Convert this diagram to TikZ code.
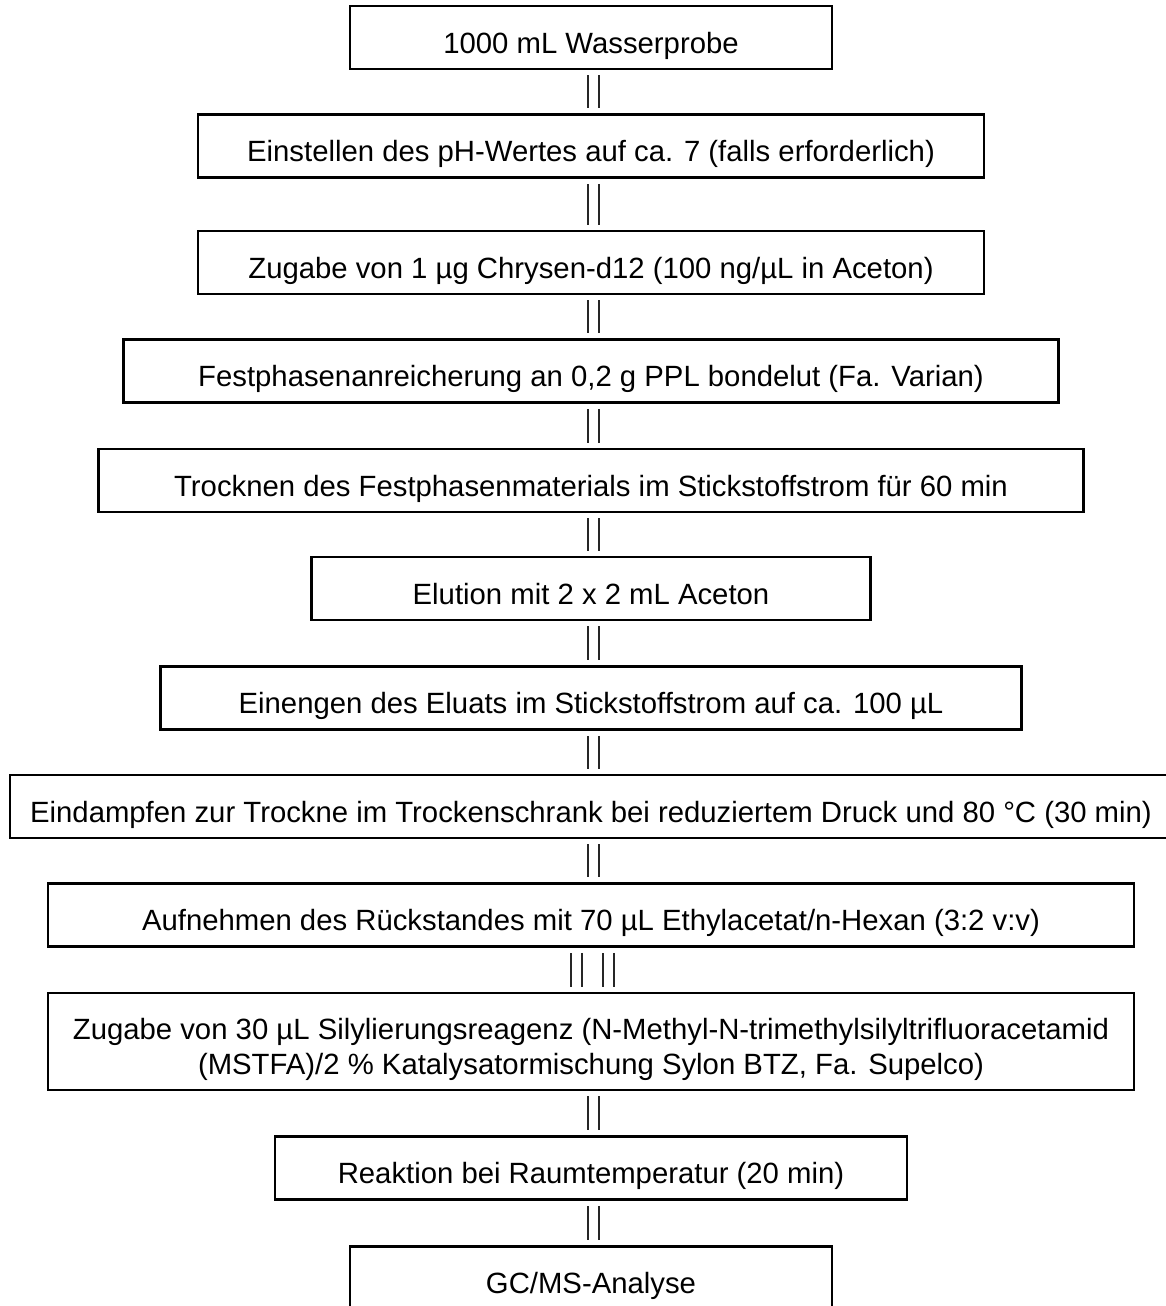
\documentclass[tikz,border=0pt]{standalone}
\usepackage{fontspec}
\setmainfont{Liberation Sans}
\begin{document}
\begin{tikzpicture}[x=1pt,y={(0,-1pt)},
  stepbox/.style={draw=black, line width=2.8pt, fill=white, inner sep=0pt,
    align=center, font=\fontsize{29.3}{34.5}\selectfont, minimum height=63pt},
  oneline/.style={text height=31.5pt, text depth=0pt},
  link/.style={draw=black!85, line width=2.2pt, double=white, double distance=8.5pt,
    shorten <=5pt, shorten >=5pt}]
\useasboundingbox (0,0) rectangle (1166,1306);
\clip (0,0) rectangle (1166,1306);
% process steps, all centred on x = 591
\node[stepbox, oneline, minimum width=482pt] (s1) at (591,37.5) {1000 mL Wasserprobe};
\node[stepbox, oneline, minimum width=786pt] (s2) at (591,146) {Einstellen des pH-Wertes auf ca. 7 (falls erforderlich)};
\node[stepbox, oneline, minimum width=786pt] (s3) at (591,262.5) {Zugabe von 1 µg Chrysen-d12 (100 ng/µL in Aceton)};
\node[stepbox, oneline, minimum width=935pt] (s4) at (591,371) {Festphasenanreicherung an 0,2 g PPL bondelut (Fa. Varian)};
\node[stepbox, oneline, minimum width=985pt] (s5) at (591,480.5) {Trocknen des Festphasenmaterials im Stickstoffstrom für 60 min};
\node[stepbox, oneline, minimum width=559pt] (s6) at (591,588.5) {Elution mit 2 x 2 mL Aceton};
\node[stepbox, oneline, minimum width=861pt] (s7) at (591,698) {Einengen des Eluats im Stickstoffstrom auf ca. 100 µL};
\node[stepbox, oneline, minimum width=1162pt] (s8) at (591,806.5) {Eindampfen zur Trockne im Trockenschrank bei reduziertem Druck und 80 °C (30 min)};
\node[stepbox, oneline, minimum width=1086pt] (s9) at (591,915) {Aufnehmen des Rückstandes mit 70 µL Ethylacetat/n-Hexan (3:2 v:v)};
\node[stepbox, minimum width=1086pt, minimum height=97pt] (s10) at (591,1041.5) {\rule{0pt}{37pt}Zugabe von 30 µL Silylierungsreagenz (N-Methyl-N-trimethylsilyltrifluoracetamid\\(MSTFA)/2 \% Katalysatormischung Sylon BTZ, Fa. Supelco)};
\node[stepbox, oneline, minimum width=632pt] (s11) at (591,1168) {Reaktion bei Raumtemperatur (20 min)};
\node[stepbox, oneline, minimum width=482pt] (s12) at (591,1278) {GC/MS-Analyse};
% double-bar connectors
\foreach \a/\b in {s1/s2,s2/s3,s3/s4,s4/s5,s5/s6,s6/s7,s7/s8,s8/s9,s10/s11,s11/s12}
  \draw[link] ([xshift=2.5pt]\a.south) -- ([xshift=2.5pt]\b.north);
\draw[link] ([xshift=-14.5pt]s9.south) -- ([xshift=-14.5pt]s10.north);
\draw[link] ([xshift=17.5pt]s9.south) -- ([xshift=17.5pt]s10.north);
\end{tikzpicture}
\end{document}
